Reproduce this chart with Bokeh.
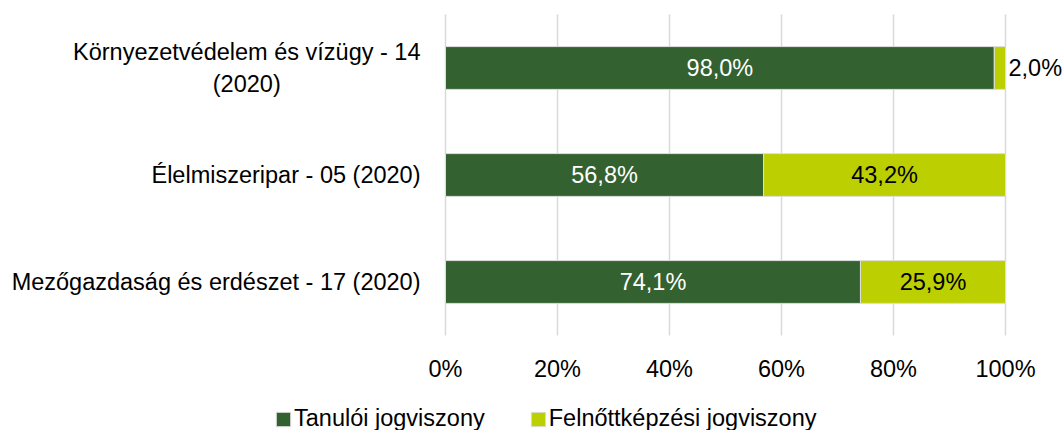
from bokeh.plotting import figure
from bokeh.models import ColumnDataSource, LabelSet, Range1d, Legend, LegendItem
from bokeh.core.properties import value
from bokeh.embed import file_html
from bokeh.resources import INLINE

categories = ["Mezőgazdaság és erdészet - 17 (2020)",
              "Élelmiszeripar - 05 (2020)",
              "Környezetvédelem és vízügy - 14\n(2020)"]
tanuloi = [74.1, 56.8, 98.0]
felnott = [25.9, 43.2, 2.0]
series_names = ["Tanulói jogviszony", "Felnőttképzési jogviszony"]
x_ticks = [0, 20, 40, 60, 80, 100]
x_tick_labels = ["0%", "20%", "40%", "60%", "80%", "100%"]

DARK = "#33612F"
LIGHT = "#BCCF00"
FONT = "Liberation Sans"
FS = "23.5px"
TXT = "#000000"

W, H = 1063, 430
# layout in pixels: 0% at x=445, 100% at x=1005; category centres 107 px apart,
# lowest category centre at y=281.5 px from the top
X0, X100 = 445, 1005
PXX = (X100 - X0) / 100.0
PXY = 107.0
YC0 = 281.5

ypos = list(range(len(categories)))
p = figure(width=W, height=H,
           x_range=Range1d(-X0 / PXX, (W - X0) / PXX),
           y_range=Range1d(-(H - YC0) / PXY, YC0 / PXY),
           x_axis_location=None, y_axis_location=None,
           output_backend="svg", toolbar_location=None,
           min_border=0)
p.outline_line_color = None
p.grid.visible = False

# vertical grid lines over the category band
y_lo, y_hi = -0.5, len(categories) - 0.5
gsrc = ColumnDataSource(dict(x=x_ticks, y0=[y_lo] * len(x_ticks), y1=[y_hi] * len(x_ticks),
                             lab=x_tick_labels))
p.segment(x0="x", x1="x", y0="y0", y1="y1", source=gsrc, line_color="#d9d9d9", line_width=1.5)
# tick labels under the band
p.text(x="x", y="y0", text="lab", source=gsrc, y_offset=33, text_align="center",
       text_baseline="middle", text_font=value(FONT), text_font_size=FS, text_color=TXT)

src = ColumnDataSource(dict(y=ypos, t=tanuloi, f=felnott))
rs = p.hbar_stack(["t", "f"], y="y", height=0.4, fill_color=[DARK, LIGHT],
                  line_color="#dedede", line_width=1, source=src)

# category labels (left of the 0% line)
csrc = ColumnDataSource(dict(x=[0] * len(categories), y=ypos, text=categories))
p.text(x="x", y="y", text="text", source=csrc, x_offset=-25, anchor="center_right",
       text_align="center", text_baseline="middle", text_font=value(FONT),
       text_font_size=FS, text_color=TXT, text_line_height=1.25)


def fmt(v):
    return f"{v:.1f}%".replace(".", ",")


lx, ly, lt, lc, la, lo = [], [], [], [], [], []
for i, (a, b) in enumerate(zip(tanuloi, felnott)):
    lx.append(a / 2); ly.append(i); lt.append(fmt(a)); lc.append("white"); la.append("center"); lo.append(0)
    if b < 5:
        lx.append(a + b); ly.append(i); lt.append(fmt(b)); lc.append(TXT); la.append("left"); lo.append(3)
    else:
        lx.append(a + b / 2); ly.append(i); lt.append(fmt(b)); lc.append(TXT); la.append("center"); lo.append(0)

lsrc = ColumnDataSource(dict(x=lx, y=ly, text=lt, color=lc, align=la, off=lo))
labels = LabelSet(x="x", y="y", text="text", source=lsrc, text_color="color", text_align="align",
                  x_offset="off", text_baseline="middle", text_font=value(FONT), text_font_size=FS)
p.add_layout(labels)

leg = Legend(items=[LegendItem(label=n, renderers=[r]) for n, r in zip(series_names, rs)],
             orientation="horizontal", location=(274, -2),
             label_text_font=FONT, label_text_font_size=FS, label_text_color=TXT,
             glyph_width=18, glyph_height=18, label_standoff=2, spacing=44,
             padding=0, margin=0, border_line_color=None, background_fill_alpha=0)
p.add_layout(leg)

open("out.html", "w").write(file_html(p, INLINE))
